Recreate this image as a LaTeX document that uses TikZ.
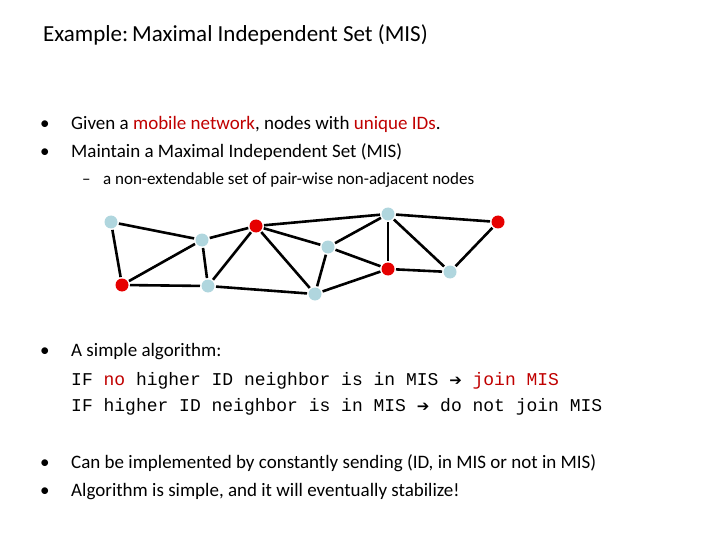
\documentclass[tikz,border=0pt]{standalone}
\usepackage{fontspec}
\setmainfont{Carlito}
\setmonofont{Liberation Mono}
\newfontfamily\symf{DejaVu Sans}
\definecolor{myred}{RGB}{192,0,0}
\definecolor{lb}{RGB}{176,214,222}
\definecolor{nr}{RGB}{230,0,0}
\begin{document}
\begin{tikzpicture}[x=1pt,y=-1pt,
  txt/.style={anchor=base west,inner sep=0pt,font=\fontsize{19}{22}\selectfont},
  code/.style={anchor=base west,inner sep=0pt,font=\ttfamily\fontsize{18}{21}\selectfont},
  vb/.style={circle,fill=lb,minimum size=13pt,inner sep=0pt},
  vr/.style={circle,fill=nr,minimum size=13pt,inner sep=0pt},
  ed/.style={line width=2.6pt}]
\useasboundingbox (0,0) rectangle (720,540);
\node[txt,font=\fontsize{23}{26}\selectfont] (title) at (43,42) {Example:\,Maximal Independent Set (MIS)};
\node[txt] (b1) at (40,130) {•};
\node[txt] (t1) at (71,130) {Given a \textcolor{myred}{mobile network}, nodes with \textcolor{myred}{unique IDs}.};
\node[txt] (b2) at (40,158) {•};
\node[txt] (t2) at (71,158) {Maintain a Maximal Independent Set (MIS)};
\node[txt,font=\fontsize{17}{20}\selectfont] (s1) at (82,185) {–};
\node[txt,font=\fontsize{17}{20}\selectfont] (s2) at (103,185) {a non-extendable set of pair-wise non-adjacent nodes};
\node[txt] (b3) at (40,356) {•};
\node[txt] (t3) at (71,356) {A simple algorithm:};
\node[code] (c1) at (71,385) {IF \textcolor{myred}{no} higher ID neighbor is in MIS {\symf\fontsize{15}{18}\selectfont ➔} \textcolor{myred}{join MIS}};
\node[code] (c2) at (71,411) {IF higher ID neighbor is in MIS {\symf\fontsize{15}{18}\selectfont ➔} do not join MIS};
\node[txt] (b4) at (40,468) {•};
\node[txt] (t4) at (71,468) {Can be implemented by constantly sending (ID, in MIS or not in MIS)};
\node[txt] (b5) at (40,496) {•};
\node[txt] (t5) at (71,496) {Algorithm is simple, and it will eventually stabilize!};
% graph
\node[vb] (a) at (111,222) {};
\node[vb] (b) at (202,240) {};
\node[vr] (c) at (256,226) {};
\node[vb] (d) at (328,247) {};
\node[vb] (e) at (388,214) {};
\node[vr] (f) at (498,222) {};
\node[vr] (g) at (122,285) {};
\node[vb] (h) at (208,286) {};
\node[vb] (i) at (315,294) {};
\node[vr] (j) at (388,269) {};
\node[vb] (k) at (450,272) {};
\foreach \u/\v in {a/b,a/g,g/b,g/h,b/h,b/c,c/h,c/i,c/d,c/e,d/e,d/i,d/j,i/j,h/i,e/j,e/k,e/f,j/k,k/f}
  \draw[ed,shorten <=8pt,shorten >=8pt] (\u.center) -- (\v.center);
\end{tikzpicture}
\end{document}
